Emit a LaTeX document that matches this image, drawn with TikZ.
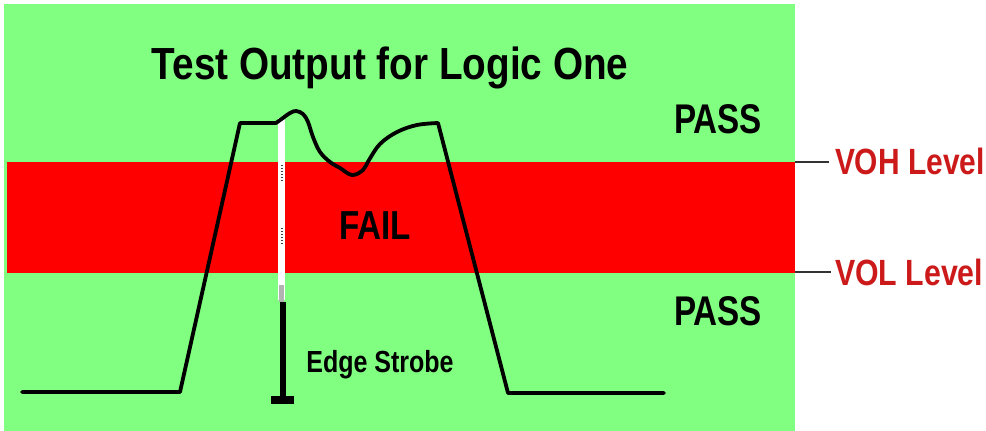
\documentclass[tikz,border=0pt]{standalone}
\usepackage{fontspec}
\setmainfont{Liberation Sans}
\usepackage{graphicx}
\definecolor{bggreen}{HTML}{80FF80}
\definecolor{bandred}{HTML}{FF0000}
\definecolor{lvlred}{HTML}{CC1A1A}
\definecolor{tickgray}{HTML}{333333}
\newcommand{\sq}[3]{\scalebox{#1}[1]{\fontsize{#2}{#2}\selectfont\bfseries #3}}
\begin{document}
\begin{tikzpicture}[x=1pt,y=-1pt,
  lbl/.style={inner sep=0pt,outer sep=0pt,anchor=base},
  lvl/.style={inner sep=0pt,outer sep=0pt,anchor=base west,text=lvlred},
  wave/.style={line width=3.8pt,line join=round,line cap=round,black},
  tick/.style={line width=2.6pt,tickgray}]
\useasboundingbox (0,0) rectangle (986,431);
\fill[white] (0,0) rectangle (986,431);
% background and fail band
\fill[bggreen] (4,4) rectangle (795,431);
\fill[bandred] (7,162) rectangle (795,273);
% level ticks and labels
\coordinate (voh) at (795,162);
\coordinate (vol) at (795,272);
\node[lvl] (vohlbl) at (835,174) {\sq{0.82}{36.5}{VOH Level}};
\node[lvl] (vollbl) at (835,285) {\sq{0.83}{36.5}{VOL Level}};
\coordinate (vohend) at ([xshift=-6pt]vohlbl.west |- voh);
\coordinate (volend) at ([xshift=-4pt]vollbl.west |- vol);
\draw[tick] (voh) -- (vohend);
\draw[tick] (vol) -- (volend);
% edge strobe
\fill[white] (278,118) rectangle (285,300);
\fill[gray!60] (279,285) rectangle (284,302);
\foreach \yy in {165,168,...,180} {\fill[black!75] (280.5,\yy) rectangle (282.8,\yy+1.4);}
\foreach \yy in {228,231,...,243} {\fill[black!75] (280.5,\yy) rectangle (282.8,\yy+1.4);}
\fill[black] (279.5,302) rectangle (286,398);
\fill[black] (271,396) rectangle (294,404);
% waveform
\draw[wave] (22,392) -- (180,392) -- (240,123) -- (276,123)
  -- plot[smooth,tension=0.6] coordinates {(276,123) (283,118) (290,113) (296,111) (303,114) (308,122) (313,137) (320,152) (330,162) (340,168) (352,175) (363,170) (369,160) (380,144) (397,132) (417,125) (438,123)}
  -- (508,393) -- (664,393);
% texts
\node[lbl] (title) at (390,79) {\sq{0.86}{45}{Test Output for Logic One}};
\node[lbl] (pass1) at (718,133) {\sq{0.8}{41.5}{PASS}};
\node[lbl] (fail) at (375,239) {\sq{0.82}{40.5}{FAIL}};
\node[lbl] (pass2) at (718,325) {\sq{0.8}{41.5}{PASS}};
\node[lbl] (strobe) at (380,372) {\sq{0.82}{30.5}{Edge Strobe}};
\end{tikzpicture}
\end{document}
